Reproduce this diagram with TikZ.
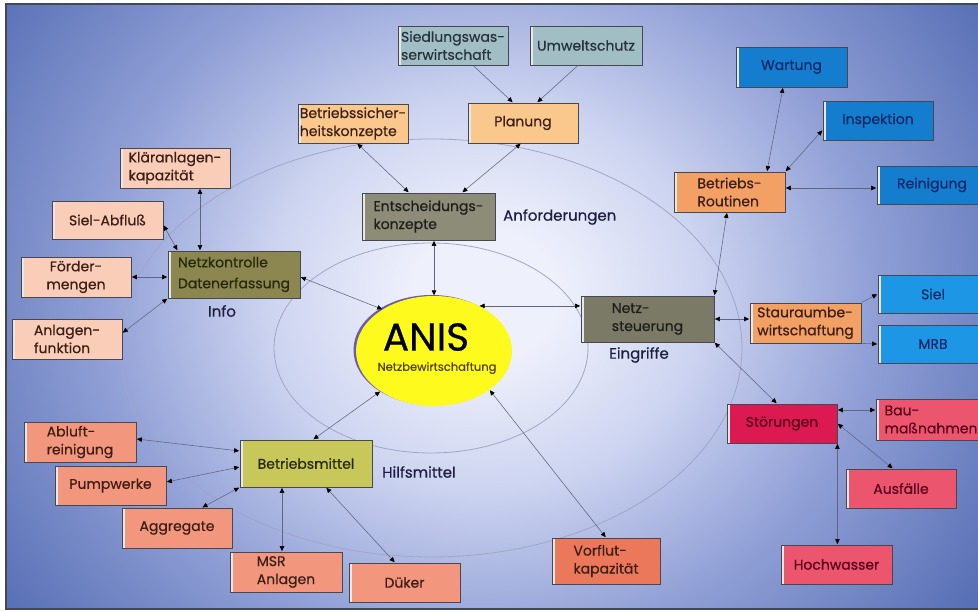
\documentclass[tikz,border=0pt]{standalone}
\usepackage{fontspec}
\setmainfont[FakeBold=0.5]{Poppins}
\usetikzlibrary{arrows.meta,shapes.geometric,shadows,calc}
\definecolor{bgin}{RGB}{238,240,251}
\definecolor{bgmid}{RGB}{205,212,240}
\definecolor{bgmid2}{RGB}{145,160,214}
\definecolor{bgout}{RGB}{86,110,180}
\pgfdeclareradialshading{bgshade}{\pgfpoint{0bp}{0bp}}{color(0bp)=(bgin); color(3bp)=(bgin); color(9bp)=(bgmid); color(16bp)=(bgmid2); color(25bp)=(bgout); color(50bp)=(bgout)}
\definecolor{framecol}{RGB}{70,72,80}
\definecolor{ringcol}{RGB}{160,166,198}
\definecolor{linecol}{RGB}{95,100,130}
\definecolor{boxedge}{RGB}{70,72,80}
\definecolor{cTeal}{RGB}{160,190,195}
\definecolor{cOrL}{RGB}{250,200,140}
\definecolor{cOr}{RGB}{242,160,100}
\definecolor{cPeach}{RGB}{250,205,185}
\definecolor{cSalmon}{RGB}{242,150,125}
\definecolor{cCoral}{RGB}{236,120,92}
\definecolor{cGray}{RGB}{140,140,120}
\definecolor{cGray2}{RGB}{122,122,102}
\definecolor{cOlive}{RGB}{140,135,80}
\definecolor{cYG}{RGB}{200,200,90}
\definecolor{cBlue}{RGB}{20,125,205}
\definecolor{cBlue2}{RGB}{30,150,230}
\definecolor{cCrim}{RGB}{220,25,80}
\definecolor{cPink}{RGB}{235,85,110}
\definecolor{anisY}{RGB}{255,250,30}
\definecolor{anisRim}{RGB}{110,90,170}
\definecolor{tBrown}{RGB}{60,30,20}
\definecolor{tBlue}{RGB}{15,40,105}
\definecolor{tTeal}{RGB}{40,50,60}
\definecolor{tOlive}{RGB}{40,40,12}
\definecolor{tDark}{RGB}{30,30,25}
\definecolor{tCrim}{RGB}{90,0,28}
\definecolor{tLbl}{RGB}{30,30,65}
\definecolor{tAnis}{RGB}{85,65,15}
\tikzset{
  >={Triangle[length=5pt,width=4.5pt,color=black]},
  box/.style={draw=boxedge, line width=0.8pt, inner sep=0pt, align=left,
    font=\fontsize{14}{18}\selectfont, text=tBrown,
    path picture={\fill[white!82!gray] ([xshift=1pt]path picture bounding box.south west) rectangle ([xshift=3pt]path picture bounding box.north west);},
    drop shadow={shadow xshift=1.2pt, shadow yshift=-1.2pt, fill=black!60, opacity=0.7}},
  con/.style={draw=linecol, line width=0.55pt, shorten >=0.5pt, shorten <=0.5pt},
  ring/.style={draw=ringcol, line width=0.8pt},
  lbl/.style={inner sep=0pt, text=tLbl, font=\fontsize{15}{17}\selectfont},
}
\begin{document}
\begin{tikzpicture}[x=1pt,y=-1pt]
\useasboundingbox (0,0) rectangle (978,612);
\fill[white] (0,0) rectangle (978,612);
\begin{scope}
  \clip (6,4) rectangle (978,609);
  \fill[bgout] (6,4) rectangle (978,609);
  \shade[shading=bgshade] (485,295) ellipse [x radius=600, y radius=540];
\end{scope}
\draw[framecol, line width=1.5pt] (6,4) rectangle (992,609);
% rings
\draw[ring] (431,348) ellipse [x radius=157, y radius=105];
\draw[ring] (431,348) ellipse [x radius=311, y radius=209];
% ANIS
\node[ellipse, fill=anisY, minimum width=156pt, minimum height=110pt, inner sep=0pt,
  drop shadow={shadow xshift=-2.5pt, shadow yshift=1pt, fill=anisRim, opacity=1}] (anis) at (434,351) {};
\node[inner sep=0pt, font=\fontsize{39}{39}\selectfont, text=black] (anist) at (426,337) {ANIS};
\node[inner sep=0pt, font=\fontsize{11.5}{12}\selectfont, text=tAnis] (anisu) at (437,368) {Netzbewirtschaftung};
% boxes top
\node[box, fill=cTeal, text=tTeal, minimum width=110pt, minimum height=39pt] (sied) at (453,45.5) {Siedlungswas-\\serwirtschaft};
\node[box, fill=cTeal, text=tTeal, minimum width=112pt, minimum height=39pt] (umwelt) at (586,45.5) {Umweltschutz};
\node[box, fill=cOrL, minimum width=110pt, minimum height=40pt] (planung) at (523,123) {Planung};
\node[box, fill=cOrL, minimum width=110pt, minimum height=39pt] (bsk) at (353,123.5) {Betriebssicher-\\heitskonzepte};
\node[box, fill=cGray, text=tDark, minimum width=133pt, minimum height=47pt] (entsch) at (428.5,216.5) {Entscheidungs-\\konzepte};
% left top
\node[box, fill=cPeach, minimum width=110pt, minimum height=40pt] (klaer) at (175,168) {Kläranlagen-\\kapazität};
\node[box, fill=cPeach, minimum width=111pt, minimum height=38pt] (sielab) at (107.5,220) {Siel-Abfluß};
\node[box, fill=cOlive, text=tOlive, minimum width=132pt, minimum height=47pt, font=\fontsize{14}{21}\selectfont] (netzk) at (234,274.5) {Netzkontrolle\\Datenerfassung};
\node[box, fill=cPeach, minimum width=110pt, minimum height=40pt, align=center] (foerder) at (76,277) {Förder-\\mengen};
\node[box, fill=cPeach, minimum width=110pt, minimum height=40pt] (anlagenf) at (67,339) {Anlagen-\\funktion};
% right
\node[box, fill=cGray2, text=tDark, minimum width=133pt, minimum height=46pt] (netzst) at (647.5,319) {Netz-\\steuerung};
\node[box, fill=cOr, minimum width=111pt, minimum height=40pt] (stau) at (805.5,323) {Stauraumbe-\\wirtschaftung};
\node[box, fill=cBlue2, text=tBlue, minimum width=110pt, minimum height=38pt] (siel) at (933,294) {Siel};
\node[box, fill=cBlue2, text=tBlue, minimum width=110pt, minimum height=38pt] (mrb) at (933,344) {MRB};
\node[box, fill=cOr, minimum width=111pt, minimum height=40pt] (brout) at (729.5,192) {Betriebs-\\Routinen};
\node[box, fill=cBlue, text=tBlue, minimum width=111pt, minimum height=40pt] (wartung) at (791.5,67) {Wartung};
\node[box, fill=cBlue, text=tBlue, minimum width=110pt, minimum height=39pt] (insp) at (878,120.5) {Inspektion};
\node[box, fill=cBlue, text=tBlue, minimum width=110pt, minimum height=38pt] (rein) at (932,185) {Reinigung};
\node[box, fill=cCrim, text=tCrim, minimum width=110pt, minimum height=39pt] (stoer) at (782,423.5) {Störungen};
\node[box, fill=cPink, text=tCrim, minimum width=110pt, minimum height=41pt] (bau) at (931,419.5) {Bau-\\maßnahmen};
\node[box, fill=cPink, text=tCrim, minimum width=110pt, minimum height=39pt] (ausf) at (901,488.5) {Ausfälle};
\node[box, fill=cPink, text=tCrim, minimum width=111pt, minimum height=39pt] (hoch) at (836.5,564.5) {Hochwasser};
% bottom
\node[box, fill=cCoral, minimum width=108pt, minimum height=46pt] (vorflut) at (606,561) {Vorflut-\\kapazität};
\node[box, fill=cSalmon, minimum width=111pt, minimum height=39pt] (dueker) at (404.5,582.5) {Düker};
\node[box, fill=cSalmon, minimum width=112pt, minimum height=40pt] (msr) at (286,572) {MSR\\Anlagen};
\node[box, fill=cSalmon, minimum width=110pt, minimum height=40pt] (aggr) at (177,528) {Aggregate};
\node[box, fill=cSalmon, minimum width=111pt, minimum height=39pt] (pump) at (110.5,485.5) {Pumpwerke};
\node[box, fill=cSalmon, minimum width=112pt, minimum height=40pt] (abluft) at (80,442) {Abluft-\\reinigung};
\node[box, fill=cYG, text=tOlive, minimum width=132pt, minimum height=47pt] (bmittel) at (306,463.5) {Betriebsmittel};
% labels
\node[lbl, anchor=west] (anf) at (503,217) {Anforderungen};
\node[lbl] (info) at (222,311) {Info};
\node[lbl, anchor=west] (eing) at (609,355) {Eingriffe};
\node[lbl, anchor=west] (hilfs) at (382,472) {Hilfsmittel};
% connectors
\draw[con, ->] ([xshift=20pt]sied.south) -- ([xshift=-10pt]planung.north);
\draw[con, ->] ([xshift=-8pt]umwelt.south) -- ([xshift=14pt]planung.north);
\draw[con, <->] ([xshift=-2pt]planung.south) -- ([xshift=33.5pt]entsch.north);
\draw[con, <->] ([xshift=4pt]bsk.south) -- ([xshift=-19.5pt]entsch.north);
\draw[con, <->] (entsch.south -| anis.north) -- (anis.north);
\draw[con, <->] (anis.45) -- (anis.45 -| netzst.west);
\draw[con, <->] ([yshift=-2.5pt]netzk.east) -- (anis.141);
\draw[con, <->] ([xshift=25pt]klaer.south) -- ([xshift=25pt]klaer.south |- netzk.north);
\draw[con, <->] ([yshift=-5pt]sielab.east) -- ([xshift=10pt]netzk.north west);
\draw[con, <->] (foerder.east) -- (foerder.east -| netzk.west);
\draw[con, <->] ([yshift=6pt]anlagenf.east) -- (netzk.south west);
\draw[con, <->] (netzst.north east) -- ([xshift=-2.5pt]brout.south);
\draw[con, <->] (netzst.east) -- (netzst.east -| stau.west);
\draw[con, <->] (netzst.south east) -- ([xshift=-5pt]stoer.north);
\draw[con, ->] (stau.north east) -- (siel.west);
\draw[con, ->] (stau.south east) -- (mrb.west);
\draw[con, <->] ([xshift=37.5pt]brout.north) -- ([xshift=-8.5pt]wartung.south);
\draw[con, <->] (brout.north east) -- ([yshift=-9.5pt]insp.west);
\draw[con, <->] ([yshift=4pt]brout.east) -- ([yshift=4pt]brout.east -| rein.west);
\draw[con, <->] ([yshift=13.5pt]stoer.east) -- ([yshift=13.5pt]stoer.east -| bau.west);
\draw[con, <->] (stoer.east) -- ([xshift=-8pt]ausf.north);
\draw[con, <->] (stoer.south east) -- (stoer.south east |- hoch.north);
\draw[con, <->] (anis.-35) -- (vorflut.north);
\draw[con, <->] (anis.217) -- ([xshift=7pt]bmittel.north);
\draw[con, <->] ([yshift=3pt]abluft.east) -- ([yshift=12.5pt]bmittel.west);
\draw[con, <->] ([yshift=3.5pt]pump.east) -- ([yshift=-3.5pt]bmittel.west);
\draw[con, <->] ([xshift=25pt]aggr.north) -- (bmittel.south west);
\draw[con, <->] ([xshift=-4pt]msr.north) -- ([xshift=-4pt]msr.north |- bmittel.south);
\draw[con, <->] ([xshift=20pt]bmittel.south) -- ([xshift=-9.5pt]dueker.north);
\end{tikzpicture}
\end{document}
